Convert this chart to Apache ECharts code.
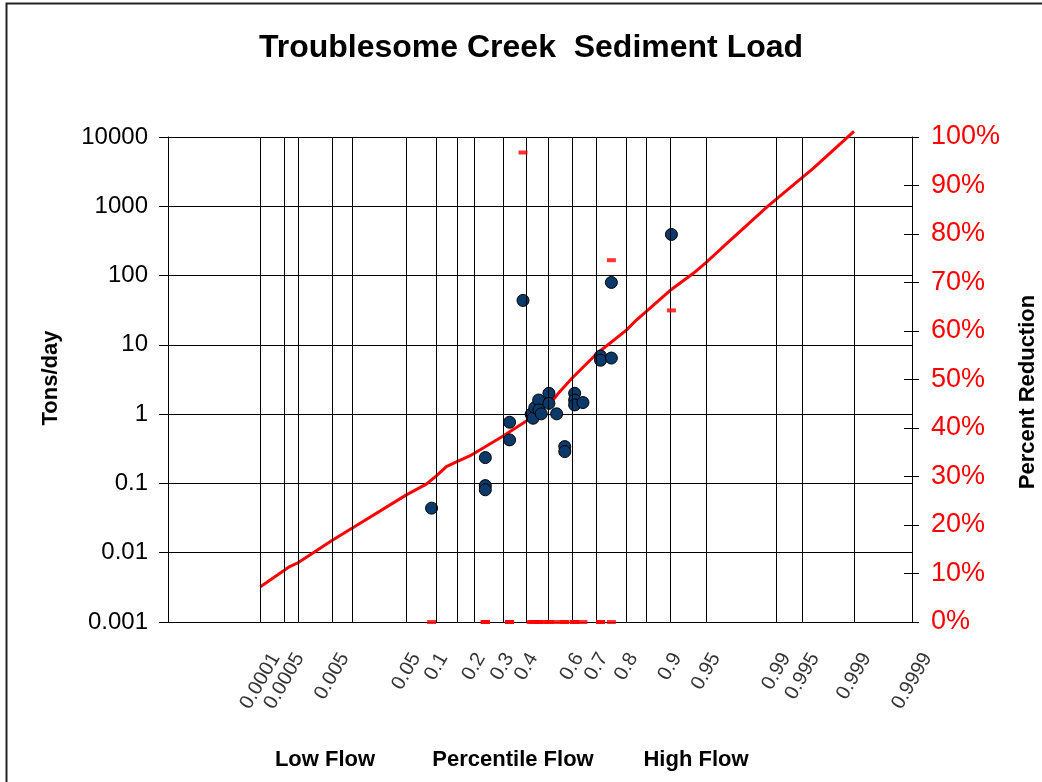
<!DOCTYPE html>
<html>
<head>
<meta charset="utf-8">
<script src="https://cdn.jsdelivr.net/npm/echarts/dist/echarts.min.js"></script>
<style>
  html, body { margin: 0; padding: 0; background: #fff; }
  #chart { width: 1042px; height: 782px; }
</style>
</head>
<body>
<div id="chart"></div>
<script>
// probability paper: grid percentiles and their plotting positions on the x axis
const gridProbs = [0.0001, 0.0005, 0.001, 0.005, 0.01, 0.05, 0.1, 0.15, 0.2, 0.3, 0.4, 0.5,
  0.6, 0.7, 0.8, 0.85, 0.9, 0.95, 0.99, 0.995, 0.999, 0.9999];
const gridPos = [-2.996, -2.746, -2.6, -2.25, -2.038, -1.475, -1.1625, -0.954, -0.771, -0.475, -0.225, 0,
  0.25, 0.504, 0.817, 1.025, 1.271, 1.646, 2.379, 2.65, 3.1875, 3.792];
const xLabels = ['0.0001', '0.0005', '0.005', '0.05', '0.1', '0.2', '0.3', '0.4', '0.6', '0.7', '0.8',
  '0.9', '0.95', '0.99', '0.995', '0.999', '0.9999'];
const yLabels = ['0.001', '0.01', '0.1', '1', '10', '100', '1000', '10000'];

// target load curve (tons/day) by flow percentile
const targetProb = [0.0001, 0.0005, 0.00069, 0.001, 0.005, 0.01, 0.0179, 0.05, 0.0833, 0.1, 0.125, 0.15,
  0.188, 0.2, 0.3, 0.4, 0.5, 0.521, 0.549, 0.6, 0.7, 0.8, 0.825, 0.85, 0.9, 0.932, 0.95, 0.95875,
  0.9852, 0.99, 0.995, 0.99582, 0.999];
const targetLoad = [0.00323, 0.00558, 0.00632, 0.0072, 0.015, 0.0227, 0.0282, 0.0684, 0.0975, 0.1285, 0.175, 0.204,
  0.249, 0.27, 0.475, 0.794, 1.40, 1.60, 2.11, 3.3, 7.37, 16.3, 22.8, 30.5, 60.8, 107, 154, 246,
  1002, 1268, 2606, 3502, 12080];

// measured samples
const sampleProb = [0.092, 0.24, 0.24, 0.24, 0.33, 0.33, 0.386, 0.422, 0.431, 0.439, 0.457, 0.458, 0.469,
  0.504, 0.504, 0.536, 0.57, 0.57, 0.611, 0.611, 0.611, 0.645, 0.714, 0.714, 0.75, 0.75, 0.902];
const sampleLoad = [0.044, 0.236, 0.093, 0.081, 0.764, 0.425, 43.8, 0.996, 0.873, 1.24, 1.60, 1.15, 1.01,
  2.0, 1.43, 1.01, 0.34, 0.288, 2.0, 1.60, 1.36, 1.47, 6.9, 6.0, 6.45, 79.6, 392];
const sampleReduction = [0, 0, 0, 0, 0, 0, 0.968, 0, 0, 0, 0, 0, 0,
  0, 0, 0, 0, 0, 0, 0, 0, 0, 0, 0, 0, 0.746, 0.6425];

const FONT = '"Liberation Sans", Arial, sans-serif';
const RED = '#FF0000';

function probPos(p) {
  for (let i = 0; i < gridProbs.length - 1; i++) {
    if (p <= gridProbs[i + 1]) {
      const t = (p - gridProbs[i]) / (gridProbs[i + 1] - gridProbs[i]);
      return gridPos[i] + t * (gridPos[i + 1] - gridPos[i]);
    }
  }
  return gridPos[gridPos.length - 1];
}

// rotated tick labels hang below the axis, box centred on the grid line
const labelFont = 20;
const labelAngle = 60;
const measureCtx = document.createElement('canvas').getContext('2d');
measureCtx.font = labelFont + 'px ' + FONT;
function labelDrop(text) {
  const w = measureCtx.measureText(text).width;
  const a = labelAngle * Math.PI / 180;
  const h = w * Math.sin(a) + labelFont * 0.72 * Math.cos(a);
  return 29 + h / 2;
}

const chart = echarts.init(document.getElementById('chart'));

const option = {
  animation: false,
  backgroundColor: '#fff',
  grid: { left: 168, right: 130, top: 137, bottom: 160, containLabel: false },
  xAxis: {
    type: 'value',
    min: -3.958,
    max: 3.792,
    axisLine: { show: true, onZero: false, lineStyle: { color: '#000', width: 1 } },
    axisTick: { show: false },
    axisLabel: { show: false },
    splitLine: { show: false }
  },
  yAxis: [
    {
      type: 'log',
      min: 0.001,
      max: 10000,
      position: 'left',
      axisLine: { show: true, onZero: false, lineStyle: { color: '#000', width: 1 } },
      axisTick: { show: true, length: 9, lineStyle: { color: '#000' } },
      axisLabel: {
        color: '#000', fontSize: 24, fontFamily: FONT, margin: 20,
        formatter: v => yLabels[Math.round(Math.log10(v)) + 3]
      },
      splitLine: { show: true, lineStyle: { color: '#000', width: 1 } }
    },
    {
      type: 'value',
      min: 0,
      max: 1,
      interval: 0.1,
      position: 'right',
      axisLine: { show: true, onZero: false, lineStyle: { color: '#000', width: 1 } },
      axisTick: { show: true, length: 7, lineStyle: { color: '#000' } },
      axisLabel: {
        color: RED, fontSize: 27, fontFamily: FONT, margin: 19,
        formatter: v => Math.round(v * 100) + '%'
      },
      splitLine: { show: false }
    },
    {
      type: 'value',
      min: 0,
      max: 1,
      interval: 0.1,
      position: 'right',
      axisLine: { show: false, onZero: false },
      axisTick: { show: true, inside: true, length: 8, lineStyle: { color: '#000' } },
      axisLabel: { show: false },
      splitLine: { show: false }
    }
  ],
  series: [
    {
      // percentile grid lines and their labels
      type: 'scatter',
      z: 1,
      silent: true,
      symbolSize: 2,
      itemStyle: { color: 'rgba(0,0,0,0)' },
      label: {
        show: true,
        formatter: '{b}',
        rotate: labelAngle,
        align: 'center',
        verticalAlign: 'middle',
        color: '#000',
        fontSize: labelFont,
        fontFamily: FONT
      },
      data: xLabels.map(t => ({
        name: t,
        value: [probPos(+t), 0.001],
        label: { position: [1, 1 + labelDrop(t)] }
      })),
      markLine: {
        silent: true,
        symbol: ['none', 'none'],
        label: { show: false },
        lineStyle: { color: '#000', width: 1, type: 'solid' },
        emphasis: { disabled: true },
        data: gridProbs.map(p => ({ xAxis: probPos(p) }))
      }
    },
    {
      name: 'Target',
      type: 'line',
      z: 3,
      clip: false,
      showSymbol: false,
      symbol: 'none',
      lineStyle: { color: RED, width: 3 },
      data: targetProb.map((p, i) => [probPos(p), targetLoad[i]])
    },
    {
      name: 'Load',
      type: 'scatter',
      z: 4,
      symbol: 'circle',
      symbolSize: 12,
      itemStyle: { color: '#0B3A6A', borderColor: '#000', borderWidth: 1, opacity: 1 },
      data: sampleProb.map((p, i) => [probPos(p), sampleLoad[i]])
    },
    {
      name: 'Reduction',
      type: 'scatter',
      yAxisIndex: 1,
      z: 5,
      clip: false,
      symbol: 'rect',
      symbolSize: [9, 4],
      itemStyle: { color: RED },
      data: sampleProb.map((p, i) => [probPos(p), sampleReduction[i]])
    }
  ],
  graphic: [
    {
      type: 'rect',
      silent: true,
      shape: { x: 6.5, y: 3.5, width: 1100, height: 900 },
      style: { fill: 'none', stroke: '#222', lineWidth: 2 }
    },
    {
      type: 'text', x: 531, y: 48,
      style: { text: 'Troublesome Creek  Sediment Load', font: 'bold 32px ' + FONT, fill: '#000',
        textAlign: 'center', textVerticalAlign: 'middle' }
    },
    {
      type: 'text', x: 51, y: 378, rotation: Math.PI / 2,
      style: { text: 'Tons/day', font: 'bold 22px ' + FONT, fill: '#000',
        textAlign: 'center', textVerticalAlign: 'middle' }
    },
    {
      type: 'text', x: 1028, y: 392, rotation: Math.PI / 2,
      style: { text: 'Percent Reduction', font: 'bold 22px ' + FONT, fill: '#000',
        textAlign: 'center', textVerticalAlign: 'middle' }
    },
    {
      type: 'text', x: 325, y: 760,
      style: { text: 'Low Flow', font: 'bold 22px ' + FONT, fill: '#000',
        textAlign: 'center', textVerticalAlign: 'middle' }
    },
    {
      type: 'text', x: 513, y: 760,
      style: { text: 'Percentile Flow', font: 'bold 22px ' + FONT, fill: '#000',
        textAlign: 'center', textVerticalAlign: 'middle' }
    },
    {
      type: 'text', x: 696, y: 760,
      style: { text: 'High Flow', font: 'bold 22px ' + FONT, fill: '#000',
        textAlign: 'center', textVerticalAlign: 'middle' }
    }
  ]
};

chart.setOption(option);
</script>
</body>
</html>
